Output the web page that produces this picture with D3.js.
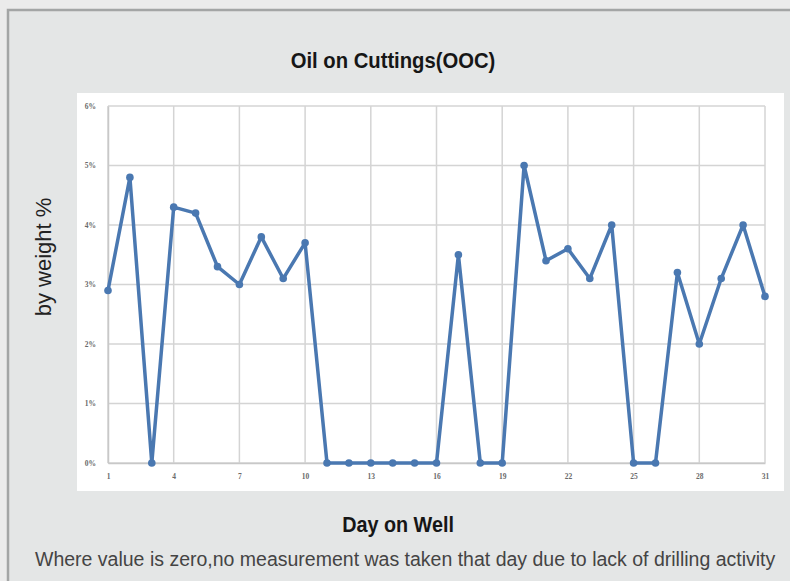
<!DOCTYPE html>
<html><head><meta charset="utf-8">
<script src="https://cdn.jsdelivr.net/npm/d3@7"></script>
<style>body{margin:0;background:#ebebeb;}svg{display:block;}</style>
</head><body>
<svg id="c" width="790" height="581"></svg>
<script>
const days = d3.range(1, 32);
const oocValues = [2.9,4.8,0,4.3,4.2,3.3,3.0,3.8,3.1,3.7,0,0,0,0,0,0,3.5,0,0,5.0,3.4,3.6,3.1,4.0,0,0,3.2,2.0,3.1,4.0,2.8];
const xTickDays = [1,4,7,10,13,16,19,22,25,28,31];
const yTicks = [0,1,2,3,4,5,6];
const titleText = "Oil on Cuttings(OOC)";
const yLabel = "by weight %";
const xLabel = "Day on Well";
const footnote = "Where value is zero,no measurement was taken that day due to lack of drilling activity";

const svg = d3.select("#c");
svg.append("rect").attr("x",0).attr("y",0).attr("width",790).attr("height",581).attr("fill","#ebebeb");
svg.append("rect").attr("x",8).attr("y",10).attr("width",800).attr("height",600).attr("fill","#e4e6e6").attr("stroke","#a3a5a5").attr("stroke-width",2.5);
svg.append("rect").attr("x",77).attr("y",93).attr("width",707).attr("height",398).attr("fill","#ffffff");

const x = d3.scaleLinear().domain([1,31]).range([108,765]);
const y = d3.scaleLinear().domain([0,6]).range([463,106]);

const g = svg.append("g");
g.selectAll(".vg").data(xTickDays).join("line")
  .attr("x1",d=>x(d)).attr("x2",d=>x(d)).attr("y1",y(6)).attr("y2",y(0))
  .attr("stroke","#d4d4d4").attr("stroke-width",1.5);
g.selectAll(".hg").data(yTicks).join("line")
  .attr("x1",x(1)).attr("x2",x(31)).attr("y1",d=>y(d)).attr("y2",d=>y(d))
  .attr("stroke","#d4d4d4").attr("stroke-width",1.5);

const yAxis = svg.append("g").attr("transform",`translate(${x(1)},0)`)
  .call(d3.axisLeft(y).tickValues(yTicks).tickFormat(d=>d+"%").tickSize(0).tickPadding(12));
const xAxis = svg.append("g").attr("transform",`translate(0,${y(0)})`)
  .call(d3.axisBottom(x).tickValues(xTickDays).tickFormat(d3.format("d")).tickSize(0).tickPadding(11));
[yAxis,xAxis].forEach(a=>{
  a.select(".domain").attr("stroke","#c8c8c8").attr("stroke-width",1.5);
  a.selectAll("text").attr("font-family","Liberation Serif, serif").attr("font-size",7.5).attr("font-weight","bold").attr("fill","#6a6a6a");
});

const data = days.map((d,i)=>({d, v:oocValues[i]}));
svg.append("path").datum(data)
  .attr("fill","none").attr("stroke","#4a78b1").attr("stroke-width",3.5).attr("stroke-linejoin","round")
  .attr("d", d3.line().x(p=>x(p.d)).y(p=>y(p.v)));
svg.selectAll(".pt").data(data).join("circle")
  .attr("cx",p=>x(p.d)).attr("cy",p=>y(p.v)).attr("r",3.8).attr("fill","#4a78b1");

svg.append("text").attr("transform","translate(393,68) scale(0.9,1)").attr("text-anchor","middle")
  .attr("font-family","Liberation Sans, Arial, sans-serif").attr("font-weight","bold").attr("font-size",22.5).attr("fill","#161616").text(titleText);
svg.append("text").attr("transform","translate(51,257) rotate(-90)").attr("text-anchor","middle")
  .attr("font-family","Liberation Sans, Arial, sans-serif").attr("font-size",22).attr("fill","#222").text(yLabel);
svg.append("text").attr("transform","translate(398,532) scale(0.9,1)").attr("text-anchor","middle")
  .attr("font-family","Liberation Sans, Arial, sans-serif").attr("font-weight","bold").attr("font-size",22).attr("fill","#161616").text(xLabel);
svg.append("text").attr("x",35).attr("y",566)
  .attr("font-family","Liberation Sans, Arial, sans-serif").attr("font-size",19.5).attr("fill","#444").text(footnote);
</script>
</body></html>
